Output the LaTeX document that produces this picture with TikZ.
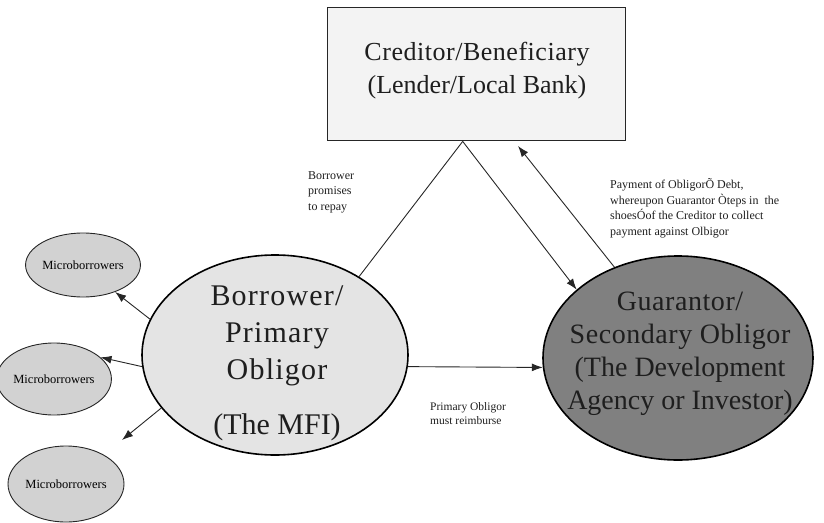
\documentclass[tikz,border=0pt]{standalone}
\usepackage{fontspec}
\setmainfont{Liberation Serif}
\newfontfamily\spacedA[LetterSpace=4]{Liberation Serif}
\newfontfamily\spacedB[LetterSpace=2]{Liberation Serif}
\usetikzlibrary{shapes.geometric,arrows.meta}
\definecolor{boxfill}{HTML}{F3F3F3}
\definecolor{borfill}{HTML}{E4E4E4}
\definecolor{guafill}{HTML}{808080}
\definecolor{micfill}{HTML}{D2D2D2}
\definecolor{inkc}{HTML}{1E1E1E}
\begin{document}
\begin{tikzpicture}[x=1pt,y=-1pt,
  bigell/.style={ellipse,draw=black,line width=1.6pt,inner sep=0pt},
  micell/.style={ellipse,draw=black!85,line width=0.9pt,fill=micfill,inner sep=0pt,
     font=\fontsize{12.5}{15}\selectfont},
  conn/.style={draw=black!85,line width=0.9pt},
  arr/.style={conn,-{Latex[length=11pt,width=8pt]}},
  lbl/.style={inner sep=0pt,align=left,anchor=west,text=inkc,
     font=\fontsize{12}{15.5}\selectfont}
]
\useasboundingbox (0,0) rectangle (824,522);
% creditor box
\node[draw=black!85,line width=1.4pt,fill=boxfill,minimum width=298pt,minimum height=133pt,
  inner sep=0pt,anchor=north west] (box) at (327,7) {};
\node[align=center,text=inkc,inner sep=0pt,font=\fontsize{26}{33}\selectfont] (boxt) at (477,71)
  {{\spacedB Creditor/Beneficiary}\\(Lender/Local Bank)};
% borrower ellipse
\node[bigell,fill=borfill,minimum width=266pt,minimum height=200pt] (b) at (275,355) {};
\node[align=center,text=inkc,inner sep=0pt,font=\spacedA\fontsize{30}{37}\selectfont] (bt) at (277,363)
  {Borrower/\\Primary\\Obligor\\[18pt]{\rmfamily (The MFI)}};
% guarantor ellipse
\node[bigell,fill=guafill,minimum width=270pt,minimum height=204pt] (g) at (678,358) {};
\node[align=center,text=inkc,inner sep=0pt,font=\fontsize{28}{33}\selectfont] (gt) at (680,354)
  {{\spacedB Guarantor/}\\{\spacedB Secondary Obligor}\\(The Development\\Agency or Investor)};
% microborrowers
\node[micell,minimum width=106pt,minimum height=64pt] (m1) at (83,265) {Microborrowers};
\node[micell,minimum width=92pt,minimum height=72pt] (m2) at (54,379) {Microborrowers};
\node[micell,minimum width=116pt,minimum height=76pt] (m3) at (66,484) {Microborrowers};
% connectors
\coordinate (apex) at ([xshift=-14pt]box.south);
\coordinate (m3end) at (122,440);
\coordinate (boxend) at (518,146);
\draw[conn] (b.43) -- (apex);
\draw[arr] (apex) -- (g.146);
\draw[arr] (g.125) -- (boxend);
\draw[arr] (b.-5) -- (g.184);
\draw[arr] (b.164) -- (m1.-40);
\draw[arr] (b.185) -- (m2.25);
\draw[arr] (b.205) -- (m3end);
% labels
\node[lbl] (l1) at (308,192) {Borrower\\promises\\to repay};
\node[lbl] (l2) at (610,208.5) {Payment of ObligorÕ Debt,\\whereupon Guarantor Òteps in\ \ the\\shoesÓof the Creditor to collect\\payment against Olbigor};
\node[lbl,font=\fontsize{11.5}{14}\selectfont] (l3) at (430,414) {Primary Obligor\\must reimburse};
\end{tikzpicture}
\end{document}
